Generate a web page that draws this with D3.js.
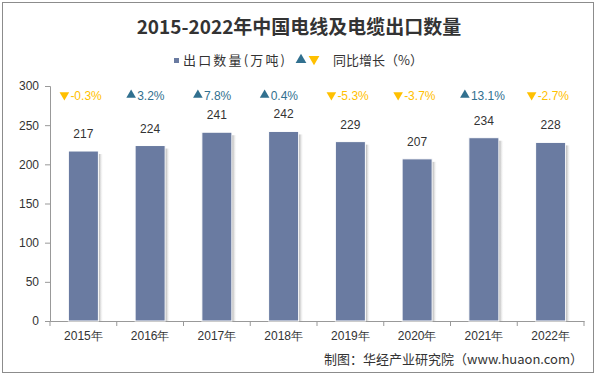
<!DOCTYPE html>
<html lang="zh">
<head>
<meta charset="UTF-8">
<title>2015-2022年中国电线及电缆出口数量</title>
<script src="https://d3js.org/d3.v7.min.js"></script>
<style>
  body { margin: 0; background: #fff; }
  svg { display: block; font-family: "Liberation Sans", Arial, "Noto Sans CJK SC", sans-serif; }
</style>
</head>
<body>
<svg id="chart" width="596" height="375"></svg>
<script>
// data
const years = ["2015年", "2016年", "2017年", "2018年", "2019年", "2020年", "2021年", "2022年"];
const exportQty = [217, 224, 241, 242, 229, 207, 234, 228];
const growth = [-0.3, 3.2, 7.8, 0.4, -5.3, -3.7, 13.1, -2.7];
const yTicks = [0, 50, 100, 150, 200, 250, 300];

const W = 596, H = 375;
const m = { left: 50, right: 12, top: 86, bottom: 54 };
const svg = d3.select("#chart");

// outer frame
svg.append("rect").attr("x", 2.5).attr("y", 2.5).attr("width", W - 5).attr("height", H - 5)
  .attr("fill", "#fff").attr("stroke", "#8c8c8c").attr("stroke-width", 1);

const x = d3.scaleBand().domain(years).range([m.left, W - m.right]).paddingInner(0.55).paddingOuter(0.275);
const y = d3.scaleLinear().domain([0, 300]).range([H - m.bottom, m.top]);

const defs = svg.append("defs");
const grad = defs.append("linearGradient").attr("id", "shade");
grad.append("stop").attr("offset", "0%").attr("stop-color", "#8a8a8a").attr("stop-opacity", 0.8);
grad.append("stop").attr("offset", "100%").attr("stop-color", "#ffffff").attr("stop-opacity", 0);

// title
svg.append("text").attr("x", W / 2 + 1).attr("y", 34).attr("text-anchor", "middle")
  .attr("font-family", "'Noto Sans CJK SC', sans-serif").attr("font-weight", "bold")
  .attr("font-size", 19).attr("fill", "#333").text("2015-2022年中国电线及电缆出口数量");

// legend
const lg = svg.append("g").attr("font-family", "'Noto Sans CJK SC', sans-serif").attr("font-size", 13).attr("fill", "#333");
lg.append("rect").attr("x", 174).attr("y", 58).attr("width", 5).attr("height", 5).attr("fill", "#6a7ba1");
lg.append("text").attr("x", 183).attr("y", 65).attr("textLength", 102).text("出口数量(万吨)");
lg.append("path").attr("d", d3.symbol(d3.symbolTriangle, 50)()).attr("transform", "translate(301,60)").attr("fill", "#31708f");
lg.append("path").attr("d", d3.symbol(d3.symbolTriangle, 50)()).attr("transform", "translate(314,59) rotate(180)").attr("fill", "#ffc000");
lg.append("text").attr("x", 333).attr("y", 65).text("同比增长（%）");

// y axis
const yAxis = svg.append("g").attr("transform", `translate(${m.left},0)`)
  .call(d3.axisLeft(y).tickValues(yTicks).tickSize(5).tickPadding(6));
yAxis.select(".domain").attr("stroke", "#999");
yAxis.selectAll(".tick line").attr("stroke", "#999");
yAxis.selectAll(".tick text").attr("font-size", 12).attr("fill", "#333");

// x axis
const xAxis = svg.append("g").attr("transform", `translate(0,${H - m.bottom})`)
  .call(d3.axisBottom(x).tickSize(0).tickPadding(10));
xAxis.select(".domain").attr("stroke", "#999");
xAxis.selectAll(".tick text").attr("font-size", 12).attr("fill", "#333");
const step = x.step();
svg.append("g").selectAll("line").data(d3.range(years.length + 1)).join("line")
  .attr("x1", i => m.left + i * step).attr("x2", i => m.left + i * step)
  .attr("y1", H - m.bottom).attr("y2", H - m.bottom + 5).attr("stroke", "#999");

// bars with shadow
const bars = svg.append("g");
bars.selectAll("rect.shadow").data(exportQty).join("rect").attr("class", "shadow")
  .attr("x", (d, i) => x(years[i]) + x.bandwidth()).attr("y", d => y(d) + 3)
  .attr("width", 5).attr("height", d => y(0) - y(d) - 3).attr("fill", "url(#shade)");
bars.selectAll("rect.bar").data(exportQty).join("rect").attr("class", "bar")
  .attr("x", (d, i) => x(years[i])).attr("y", d => y(d))
  .attr("width", x.bandwidth()).attr("height", d => y(0) - y(d))
  .attr("fill", "#6a7ba1").attr("stroke", "#fff").attr("stroke-width", 1);

// value labels
svg.append("g").selectAll("text").data(exportQty).join("text")
  .attr("x", (d, i) => x(years[i]) + x.bandwidth() / 2).attr("y", d => y(d) - 13)
  .attr("text-anchor", "middle").attr("font-size", 12).attr("fill", "#333").text(d => d);

// growth labels
const gl = svg.append("g").selectAll("g").data(growth).join("g")
  .attr("transform", (d, i) => `translate(${x(years[i]) + x.bandwidth() / 2},95)`);
gl.append("path").attr("d", d3.symbol(d3.symbolTriangle, 40)())
  .attr("transform", d => d < 0 ? "translate(-19,0) rotate(180)" : "translate(-19,0)")
  .attr("fill", d => d < 0 ? "#ffc000" : "#31708f");
gl.append("text").attr("x", -13).attr("y", 4.5).attr("font-size", 12)
  .attr("fill", d => d < 0 ? "#ffc000" : "#31708f").text(d => d.toFixed(1) + "%");

// source
svg.append("text").attr("x", 583).attr("y", 364).attr("text-anchor", "end")
  .attr("font-family", "'Noto Sans CJK SC', sans-serif").attr("font-size", 13).attr("fill", "#333")
  .text("制图：华经产业研究院（www.huaon.com）");
</script>
</body>
</html>
